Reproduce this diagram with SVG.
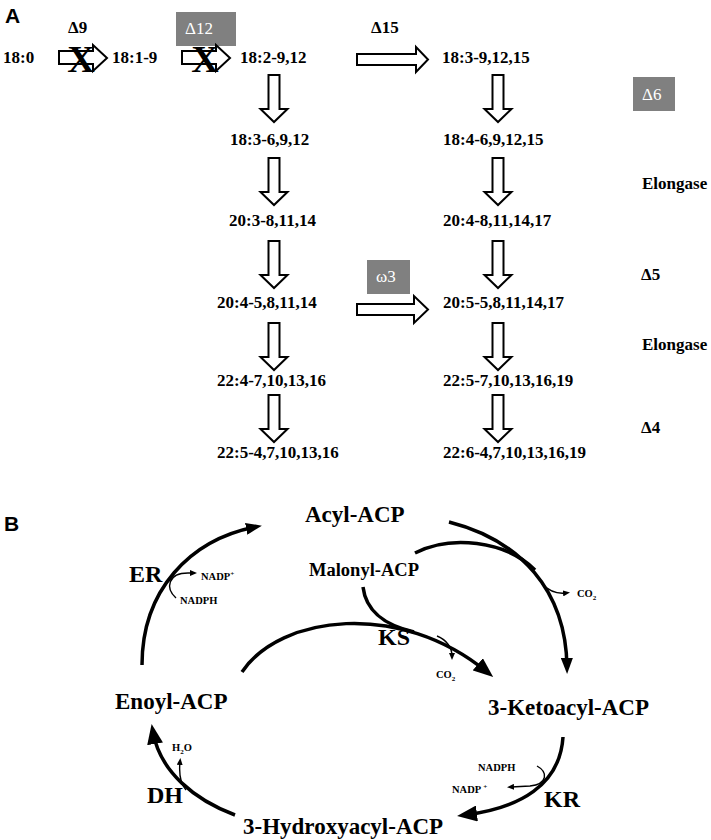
<svg xmlns="http://www.w3.org/2000/svg" width="711" height="840" viewBox="0 0 711 840">
<style>
  text { font-family: "Liberation Serif", "Times New Roman", serif; font-weight: bold; fill: #000; }
  .panel { font-family: "Liberation Sans", Arial, sans-serif; font-size: 21px; }
  .fa { font-size: 17px; }
  .box { fill: #808080; }
  .boxt { fill: #fff; font-weight: normal; font-size: 17px; }
  .hollow { fill: #fff; stroke: #000; stroke-width: 2; stroke-linejoin: miter; }
  .xmark { font-size: 38px; text-anchor: middle; }
  .big { font-size: 23px; }
  .enz { font-size: 24px; }
  .sm { font-size: 10.5px; }
  .arc { fill: none; stroke: #000; stroke-width: 3.5; }
  .thin { fill: none; stroke: #000; stroke-width: 1.4; }
</style>
<defs>
  <path id="varrow" d="M-5.5,0 H5.5 V34 H13.5 L0,47 L-13.5,34 H-5.5 Z"/>
  <marker id="hb" viewBox="0 0 20 16" markerWidth="20" markerHeight="16" refX="12" refY="8" orient="auto" markerUnits="userSpaceOnUse">
    <path d="M0,0 L20,8 L0,16 Z" fill="#000"/>
  </marker>
  <marker id="hm" viewBox="0 0 16 12" markerWidth="16" markerHeight="12" refX="9" refY="6" orient="auto" markerUnits="userSpaceOnUse">
    <path d="M0,0 L16,6 L0,12 Z" fill="#000"/>
  </marker>
  <marker id="hs" viewBox="0 0 7 6" markerWidth="7" markerHeight="6" refX="3" refY="3" orient="auto" markerUnits="userSpaceOnUse">
    <path d="M0,0 L7,3 L0,6 Z" fill="#000"/>
  </marker>
</defs>

<!-- Panel A -->
<g id="panelA">
  <text class="panel" x="5" y="23">A</text>

  <g id="labels-enzymes">
    <text class="fa" x="68" y="33">Δ9</text>
    <text class="fa" x="371" y="33">Δ15</text>
    <g id="box-d12"><rect class="box" x="176" y="12" width="60" height="34"/><text class="boxt" x="185" y="34">Δ12</text></g>
    <g id="box-d6"><rect class="box" x="633" y="77" width="42" height="34"/><text class="boxt" x="642" y="100">Δ6</text></g>
    <g id="box-w3"><rect class="box" x="367" y="260" width="43" height="34"/><text class="boxt" x="376" y="282">ω3</text></g>
    <text class="fa" x="642" y="189">Elongase</text>
    <text class="fa" x="641" y="280">Δ5</text>
    <text class="fa" x="642" y="350">Elongase</text>
    <text class="fa" x="641" y="433">Δ4</text>
  </g>

  <g id="n-18-0"><text class="fa" x="3" y="63">18:0</text></g>
  <g id="n-18-1"><text class="fa" x="112" y="63">18:1-9</text></g>
  <g id="n-18-2"><text class="fa" x="240" y="63">18:2-9,12</text></g>
  <g id="n-18-3a"><text class="fa" x="442" y="63">18:3-9,12,15</text></g>
  <g id="n-18-3b"><text class="fa" x="230" y="145">18:3-6,9,12</text></g>
  <g id="n-18-4"><text class="fa" x="443" y="145">18:4-6,9,12,15</text></g>
  <g id="n-20-3"><text class="fa" x="229" y="226">20:3-8,11,14</text></g>
  <g id="n-20-4a"><text class="fa" x="443" y="226">20:4-8,11,14,17</text></g>
  <g id="n-20-4b"><text class="fa" x="217" y="308">20:4-5,8,11,14</text></g>
  <g id="n-20-5"><text class="fa" x="443" y="308">20:5-5,8,11,14,17</text></g>
  <g id="n-22-4"><text class="fa" x="217" y="386">22:4-7,10,13,16</text></g>
  <g id="n-22-5a"><text class="fa" x="443" y="386">22:5-7,10,13,16,19</text></g>
  <g id="n-22-5b"><text class="fa" x="217" y="458">22:5-4,7,10,13,16</text></g>
  <g id="n-22-6"><text class="fa" x="443" y="458">22:6-4,7,10,13,16,19</text></g>

  <g id="connectors-A">
    <path class="hollow" d="M59,51 H93 V45 L107,58 L93,71 V64 H59 Z"/>
    <text class="xmark" x="81" y="72">X</text>
    <path class="hollow" d="M182,51 H216 V45 L230,58 L216,71 V64 H182 Z"/>
    <text class="xmark" x="205" y="72">X</text>
    <path class="hollow" d="M357,54 H416 V47 L428,59.5 L416,72 V65 H357 Z"/>
    <path class="hollow" d="M357,304 H414 V296 L428,309.5 L414,323 V315 H357 Z"/>
    <use href="#varrow" class="hollow" x="274" y="75"/>
    <use href="#varrow" class="hollow" x="274" y="158"/>
    <use href="#varrow" class="hollow" x="274" y="241"/>
    <use href="#varrow" class="hollow" x="274" y="323"/>
    <use href="#varrow" class="hollow" x="274" y="395"/>
    <use href="#varrow" class="hollow" x="498" y="75"/>
    <use href="#varrow" class="hollow" x="498" y="158"/>
    <use href="#varrow" class="hollow" x="498" y="241"/>
    <use href="#varrow" class="hollow" x="498" y="323"/>
    <use href="#varrow" class="hollow" x="498" y="395"/>
  </g>
</g>

<!-- Panel B -->
<g id="panelB">
  <text class="panel" x="4" y="531">B</text>

  <g id="n-acyl"><text class="big" x="305" y="522">Acyl-ACP</text></g>
  <g id="n-malonyl"><text x="309" y="576" font-size="18.5">Malonyl-ACP</text></g>
  <g id="n-keto"><text class="big" x="488" y="715">3-Ketoacyl-ACP</text></g>
  <g id="n-hydroxy"><text class="big" x="243" y="834">3-Hydroxyacyl-ACP</text></g>
  <g id="n-enoyl"><text class="big" x="115" y="709">Enoyl-ACP</text></g>

  <g id="enzyme-labels">
    <text class="enz" x="129" y="582">ER</text>
    <text class="enz" x="378" y="645">KS</text>
    <text class="enz" x="544" y="807">KR</text>
    <text class="enz" x="147" y="803">DH</text>
    <text class="sm" x="201" y="580">NADP<tspan font-size="7" dy="-4">+</tspan></text>
    <text class="sm" x="180" y="604">NADPH</text>
    <text class="sm" x="436" y="678">CO<tspan font-size="7" dy="3">2</tspan></text>
    <text class="sm" x="577" y="597">CO<tspan font-size="7" dy="3">2</tspan></text>
    <text class="sm" x="478" y="771">NADPH</text>
    <text class="sm" x="452" y="793">NADP <tspan font-size="7" dy="-4">+</tspan></text>
    <text class="sm" x="172" y="751">H<tspan font-size="7" dy="3">2</tspan><tspan dy="-3">O</tspan></text>
  </g>

  <g id="connectors-B">
    <path class="arc" d="M142,665 C142,590 190,540 255,527" marker-end="url(#hm)"/>
    <path class="thin" d="M176,598 C165,588 168,573 188,573 L193,573" marker-end="url(#hs)"/>
    <path class="arc" stroke-width="4" d="M242,672 C280,615 400,600 487,672" marker-end="url(#hb)"/>
    <path class="arc" d="M363,587 C366,612 385,625 414,632"/>
    <path class="thin" d="M437,636 C447,640 452,648 452,656" marker-end="url(#hs)"/>
    <path class="arc" d="M449,522 C520,540 566,590 567,667" marker-end="url(#hm)"/>
    <path class="arc" d="M415,553 C450,535 505,540 535,570"/>
    <path class="thin" d="M542,584 C550,592 558,594 566,593" marker-end="url(#hs)"/>
    <path class="arc" d="M563,737 C560,785 520,808 465,815" marker-end="url(#hb)"/>
    <path class="thin" d="M537,766 C548,772 548,784 530,786 L511,787" marker-end="url(#hs)"/>
    <path class="arc" d="M235,815 C195,800 160,772 153,732" marker-end="url(#hb)"/>
    <path class="thin" d="M186,790 C180,783 179,772 180,762" marker-end="url(#hs)"/>
  </g>
</g>
</svg>
